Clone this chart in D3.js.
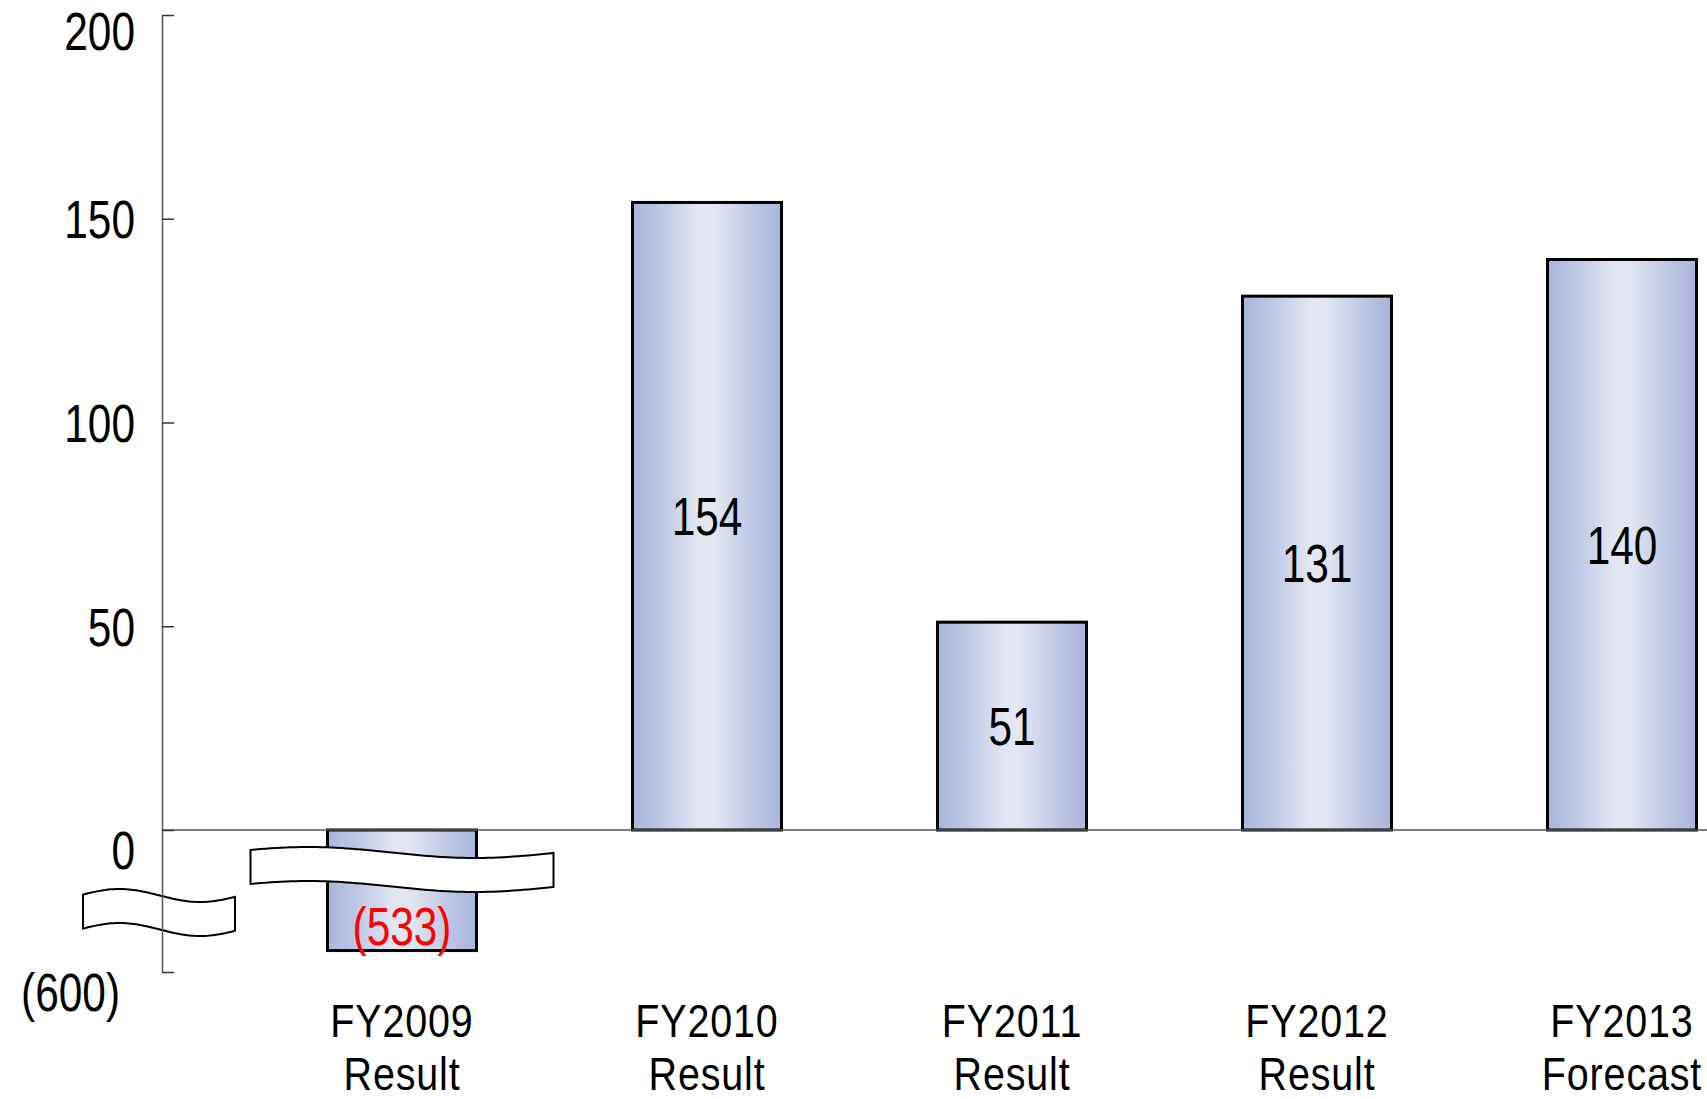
<!DOCTYPE html>
<html>
<head>
<meta charset="utf-8">
<script src="https://cdn.jsdelivr.net/npm/d3@7"></script>
<style>
  html, body { margin: 0; padding: 0; background: #fff; }
  svg { display: block; }
  text { font-family: "Liberation Sans", Arial, sans-serif; }
</style>
</head>
<body>
<svg id="chart" width="1707" height="1099"></svg>
<script>
// ---- data ----
const categories = ["FY2009", "FY2010", "FY2011", "FY2012", "FY2013"];
const subLabels  = ["Result", "Result", "Result", "Result", "Forecast"];
const values     = [-533, 154, 51, 131, 140];
const valueLabels = ["(533)", "154", "51", "131", "140"];
const yTicks     = [-600, 0, 50, 100, 150, 200];
const yTickLabels = ["(600)", "0", "50", "100", "150", "200"];

// ---- layout ----
const W = 1707, H = 1099;
const axisX = 162;
const SX = 0.8;   // horizontal squeeze to imitate a condensed gothic face
const svg = d3.select("#chart");

// broken y scale: compressed segment below the break
const y = d3.scaleLinear()
  .domain([-600, -450, 0, 200])
  .range([972, 924, 830, 15]);

const x = d3.scalePoint()
  .domain(categories)
  .range([402, 1622]);
const barW = 149;

// gradient
const defs = svg.append("defs");
const grad = defs.append("linearGradient").attr("id", "barGrad")
  .attr("x1", "0%").attr("x2", "100%").attr("y1", "0%").attr("y2", "0%");
[["0%", "#a8b5db"], ["18%", "#bcc6e4"], ["45%", "#e3e7f3"], ["55%", "#e3e7f3"], ["82%", "#bcc6e4"], ["100%", "#a8b5db"]]
  .forEach(([o, c]) => grad.append("stop").attr("offset", o).attr("stop-color", c));

// bars
svg.append("g").selectAll("rect").data(values).join("rect")
  .attr("x", (d, i) => x(categories[i]) - barW / 2)
  .attr("y", d => Math.min(y(d), y(0)))
  .attr("width", barW)
  .attr("height", d => Math.abs(y(d) - y(0)))
  .attr("fill", "url(#barGrad)")
  .attr("stroke", "#000")
  .attr("stroke-width", 3);

// zero baseline
svg.append("line")
  .attr("x1", axisX).attr("x2", W)
  .attr("y1", y(0)).attr("y2", y(0))
  .attr("stroke", "#555").attr("stroke-width", 1.5);

// break marks (wavy white bands)
function wave(x0, x1, yMid, amp, tMin, period, n) {
  const pts = [];
  for (let k = 0; k <= n; k++) {
    const t = k / n;
    pts.push([x0 + (x1 - x0) * t, yMid - amp * Math.cos(2 * Math.PI * (t - tMin) / period)]);
  }
  return pts;
}
function drawBreak(x0, x1, yMid, amp, thick, tMin, period) {
  const top = wave(x0, x1, yMid, amp, tMin, period, 60);
  const bot = wave(x0, x1, yMid + thick, amp, tMin, period, 60).reverse();
  svg.append("path")
    .attr("d", d3.line()(top.concat(bot)) + "Z")
    .attr("fill", "#fff")
    .attr("stroke", "#000")
    .attr("stroke-width", 2);
}
const bx = x(categories[0]);
drawBreak(bx - barW / 2 - 77, bx + barW / 2 + 77, y(0) + 22.5, 5.5, 34, 0.19, 1.1);
drawBreak(axisX - 79, axisX + 73, y(0) + 65.5, 6.5, 34, 0.24, 1.06);

// y axis
const pad = 27;
const yAxis = d3.axisLeft(y)
  .tickValues(yTicks)
  .tickFormat(d => yTickLabels[yTicks.indexOf(d)])
  .tickSizeInner(-12)
  .tickSizeOuter(0)
  .tickPadding(pad);
const gy = svg.append("g").attr("transform", `translate(${axisX},0)`).call(yAxis);
gy.select(".domain").attr("stroke", "#555").attr("stroke-width", 1.5);
gy.selectAll(".tick line").attr("stroke", "#333").attr("stroke-width", 1.5);
gy.selectAll(".tick text")
  .attr("fill", "#000")
  .style("font-size", "53px")
  .attr("transform", `scale(${SX},1)`)
  .attr("x", d => -(pad + (d === -600 ? 15 : 0)) / SX)
  .attr("dy", d => d === 200 ? "0.66em" : (d === 0 || d === -600) ? "0.72em" : "0.36em");

// value labels
svg.append("g").selectAll("text").data(values).join("text")
  .attr("transform", d => {
    const i = values.indexOf(d);
    const ty = d < 0 ? y(d) - 25 : (y(d) + y(0)) / 2;
    return `translate(${x(categories[i])},${ty}) scale(${SX},1)`;
  })
  .attr("dy", "0.36em")
  .attr("text-anchor", "middle")
  .attr("fill", d => d < 0 ? "#ff0000" : "#000")
  .style("font-size", "53px")
  .text((d, i) => valueLabels[i]);

// category labels (two lines, spaced so their boxes neither overlap nor leave the page)
const cat = svg.append("g").selectAll("text").data(categories).join("text")
  .attr("transform", d => `translate(${x(d)},1020) scale(${SX + 0.04},1)`)
  .attr("text-anchor", "middle")
  .attr("fill", "#000")
  .style("font-size", "47px")
  .style("letter-spacing", "1px");
cat.append("tspan").attr("x", 0).attr("dy", "0.36em").text(d => d);
cat.append("tspan").attr("x", 0).attr("dy", "1.12em").text((d, i) => subLabels[i]);
</script>
</body>
</html>
